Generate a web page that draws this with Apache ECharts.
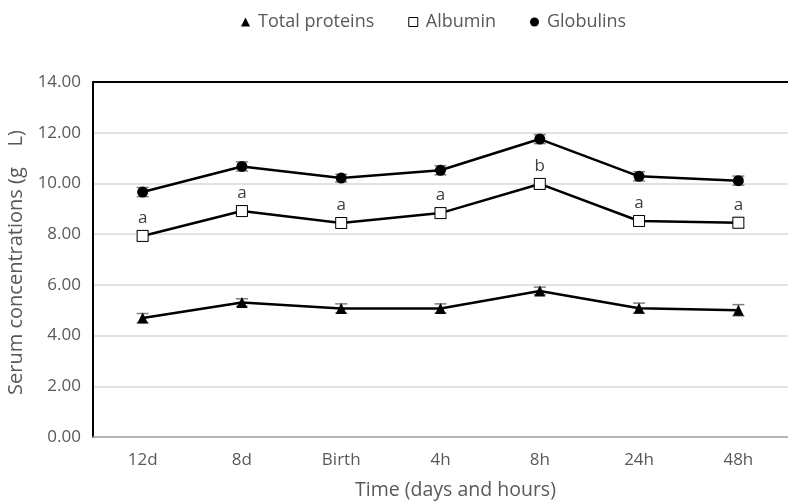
<!DOCTYPE html>
<html>
<head>
<meta charset="utf-8">
<script src="https://cdn.jsdelivr.net/npm/echarts@6/dist/echarts.min.js"></script>
<style>html,body{margin:0;padding:0;background:#fff}#c{width:788px;height:502px}</style>
</head>
<body>
<div id="c"></div>
<script>
var categories = ['12d', '8d', 'Birth', '4h', '8h', '24h', '48h'];
var totalProteins = [4.69, 5.30, 5.07, 5.07, 5.76, 5.08, 5.00];
var albumin = [7.93, 8.91, 8.44, 8.83, 9.98, 8.52, 8.45];
var globulins = [9.66, 10.67, 10.21, 10.52, 11.75, 10.28, 10.11];
var totalErr = [0.18, 0.15, 0.18, 0.18, 0.15, 0.2, 0.22];
var albuminErr = [0.2, 0.2, 0.2, 0.2, 0.2, 0.2, 0.2];
var globulinsErr = [0.18, 0.18, 0.15, 0.18, 0.18, 0.18, 0.18];
var albuminLetters = ['a', 'a', 'a', 'a', 'b', 'a', 'a'];

var font = 'Open Sans';
var txt = '#595959';

function errSeries(vals, errs) {
  return {
    type: 'custom',
    z: 1,
    silent: true,
    data: vals.map(function (v, i) { return [i, v - errs[i], v + errs[i]]; }),
    renderItem: function (params, api) {
      var lo = api.coord([api.value(0), api.value(1)]);
      var hi = api.coord([api.value(0), api.value(2)]);
      var hw = 6;
      var st = { stroke: '#7f7f7f', lineWidth: 1.5 };
      return {
        type: 'group',
        children: [
          { type: 'line', shape: { x1: lo[0], y1: lo[1], x2: hi[0], y2: hi[1] }, style: st },
          { type: 'line', shape: { x1: lo[0] - hw, y1: lo[1], x2: lo[0] + hw, y2: lo[1] }, style: st },
          { type: 'line', shape: { x1: hi[0] - hw, y1: hi[1], x2: hi[0] + hw, y2: hi[1] }, style: st }
        ]
      };
    }
  };
}

var chart = echarts.init(document.getElementById('c'), null, { renderer: 'canvas' });
chart.setOption({
  animation: false,
  backgroundColor: '#fff',
  textStyle: { fontFamily: font },
  legend: {
    top: 8,
    left: 236,
    itemGap: 34,
    itemWidth: 9,
    itemHeight: 9,
    textStyle: { fontFamily: font, fontSize: 18, color: txt, padding: [0, 0, 0, 3] },
    data: [
      { name: 'Total proteins', icon: 'triangle', itemStyle: { color: '#000' } },
      { name: 'Albumin', icon: 'rect', itemStyle: { color: '#fff', borderColor: '#000', borderWidth: 1 } },
      { name: 'Globulins', icon: 'circle', itemStyle: { color: '#000' } }
    ]
  },
  grid: { left: 93, right: 0, top: 82, bottom: 65, outerBoundsMode: 'none', containLabel: false },
  xAxis: [{
    type: 'category',
    data: categories,
    boundaryGap: true,
    axisLine: { lineStyle: { color: '#a6a6a6', width: 1.5 } },
    axisTick: { show: false },
    axisLabel: { fontFamily: font, fontSize: 17, color: txt, margin: 15 },
    name: 'Time (days and hours)',
    nameLocation: 'middle',
    nameGap: 43,
    nameTextStyle: { fontFamily: font, fontSize: 19.5, color: txt, padding: [0, 0, 0, 30] }
  }, {
    type: 'category',
    position: 'top',
    data: categories,
    axisLine: { show: true, lineStyle: { color: '#000', width: 2 } },
    axisTick: { show: false },
    axisLabel: { show: false }
  }],
  yAxis: {
    type: 'value',
    min: 0,
    max: 14,
    interval: 2,
    axisLine: { show: true, lineStyle: { color: '#000', width: 2 } },
    axisTick: { show: false },
    axisLabel: {
      fontFamily: font, fontSize: 17, color: txt, margin: 12,
      formatter: function (v) { return v.toFixed(2); }
    },
    splitLine: { lineStyle: { color: '#d9d9d9', width: 1.5 } },
    name: 'Serum concentrations (g    L)',
    nameLocation: 'middle',
    nameGap: 61,
    nameTextStyle: { fontFamily: font, fontSize: 20, color: txt, padding: [0, 6, 0, 0] }
  },
  series: [
    errSeries(totalProteins, totalErr),
    errSeries(albumin, albuminErr),
    errSeries(globulins, globulinsErr),
    {
      name: 'Total proteins', type: 'line', z: 3, data: totalProteins,
      symbol: 'triangle', symbolSize: 11,
      lineStyle: { color: '#000', width: 2.5 },
      itemStyle: { color: '#000' }
    },
    {
      name: 'Albumin', type: 'line', z: 3, data: albumin,
      symbol: 'rect', symbolSize: 11,
      lineStyle: { color: '#000', width: 2.5 },
      itemStyle: { color: '#fff', borderColor: '#000', borderWidth: 1 },
      label: {
        show: true, position: 'top', distance: 3,
        fontFamily: font, fontSize: 17, color: '#404040',
        formatter: function (p) { return albuminLetters[p.dataIndex]; }
      }
    },
    {
      name: 'Globulins', type: 'line', z: 3, data: globulins,
      symbol: 'circle', symbolSize: 11,
      lineStyle: { color: '#000', width: 2.5 },
      itemStyle: { color: '#000' }
    }
  ]
});
</script>
</body>
</html>
